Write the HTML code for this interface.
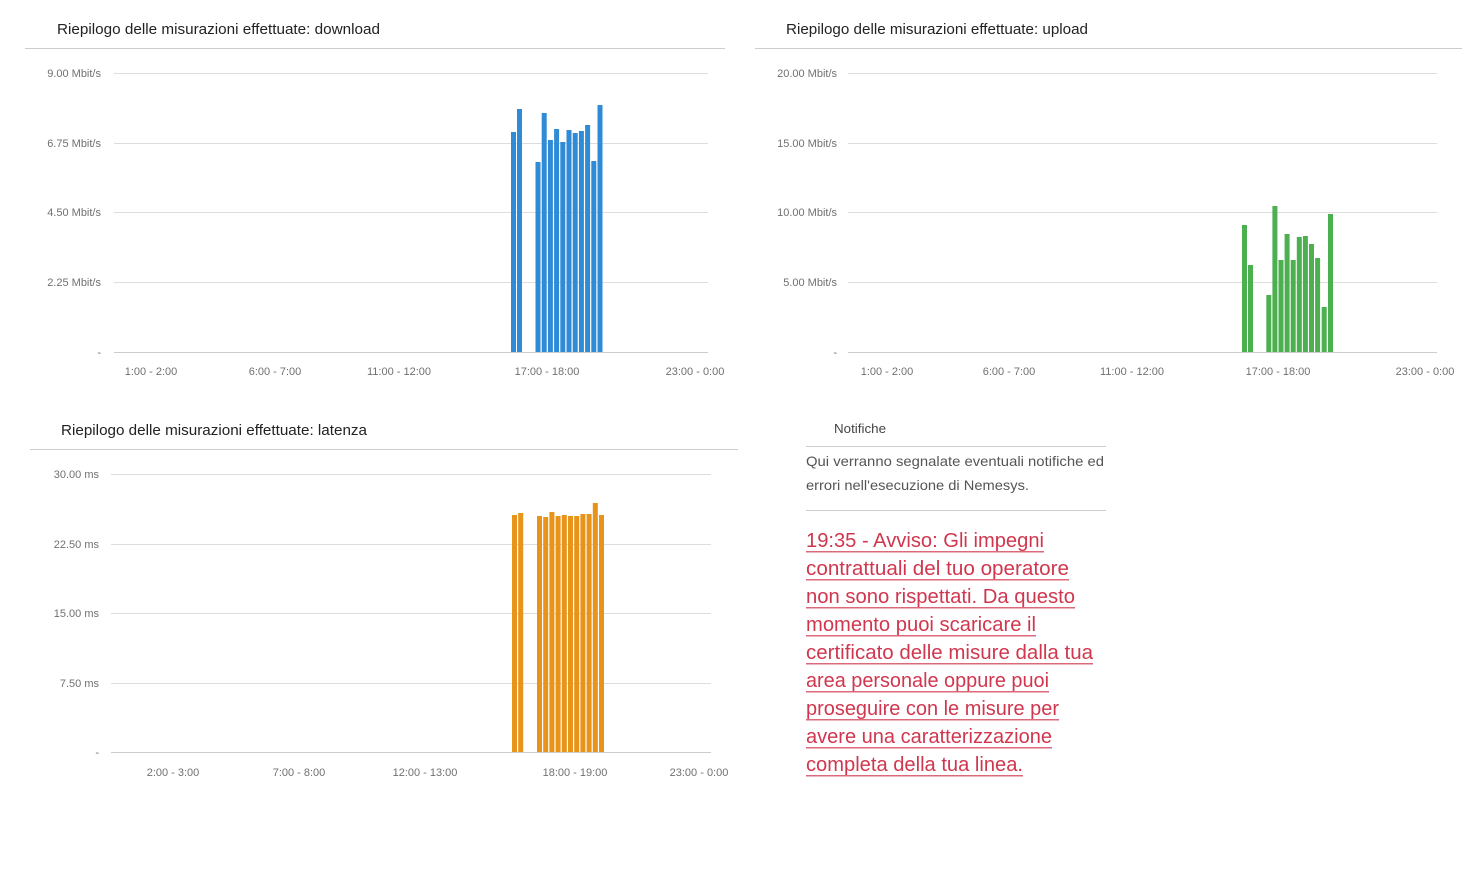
<!DOCTYPE html>
<html><head><meta charset="utf-8"><style>
html,body{margin:0;padding:0;background:#fff;}
svg{display:block;}
.t{font-family:"Liberation Sans",sans-serif;}
.ax{font-family:"Liberation Sans",sans-serif;font-size:11px;fill:#707070;}
.ti{font-family:"Liberation Sans",sans-serif;font-size:15px;fill:#222;}
.red{font-family:"Liberation Sans",sans-serif;font-size:20px;fill:#d0374f;}
.gr{font-family:"Liberation Sans",sans-serif;font-size:14px;fill:#555;}
</style></head><body>
<svg width="1478" height="878" xmlns="http://www.w3.org/2000/svg">
<text class="ti" x="57" y="34" textLength="323" lengthAdjust="spacingAndGlyphs">Riepilogo delle misurazioni effettuate: download</text>
<line x1="25" y1="48.5" x2="725" y2="48.5" stroke="#ccc"/>
<text class="ti" x="786" y="34" textLength="302" lengthAdjust="spacingAndGlyphs">Riepilogo delle misurazioni effettuate: upload</text>
<line x1="755" y1="48.5" x2="1462" y2="48.5" stroke="#ccc"/>
<text class="ti" x="61" y="435" textLength="306" lengthAdjust="spacingAndGlyphs">Riepilogo delle misurazioni effettuate: latenza</text>
<line x1="30" y1="449.5" x2="738" y2="449.5" stroke="#ccc"/>

<g stroke="#ddd">
<line x1="114" y1="73.5" x2="708" y2="73.5"/><line x1="114" y1="143.5" x2="708" y2="143.5"/>
<line x1="114" y1="212.5" x2="708" y2="212.5"/><line x1="114" y1="282.5" x2="708" y2="282.5"/>
<line x1="114" y1="352.5" x2="708" y2="352.5" stroke="#ccc"/>
</g>
<g class="ax" text-anchor="end">
<text x="101" y="77">9.00 Mbit/s</text><text x="101" y="147">6.75 Mbit/s</text>
<text x="101" y="216">4.50 Mbit/s</text><text x="101" y="286">2.25 Mbit/s</text><text x="101" y="356">-</text>
</g>
<g class="ax" text-anchor="middle">
<text x="151" y="375">1:00 - 2:00</text><text x="275" y="375">6:00 - 7:00</text>
<text x="399" y="375">11:00 - 12:00</text><text x="547" y="375">17:00 - 18:00</text>
<text x="695" y="375">23:00 - 0:00</text>
</g>
<rect x="726" y="360" width="29" height="25" fill="#fff"/>
<g fill="#2f8bd6">
<rect x="511" y="132" width="5" height="220"/><rect x="517" y="109" width="5" height="243"/>
<rect x="535.5" y="162" width="5" height="190"/><rect x="541.7" y="113" width="5" height="239"/>
<rect x="547.9" y="140" width="5" height="212"/><rect x="554.1" y="129" width="5" height="223"/>
<rect x="560.3" y="142" width="5" height="210"/><rect x="566.5" y="130" width="5" height="222"/>
<rect x="572.7" y="133" width="5" height="219"/><rect x="578.9" y="131" width="5" height="221"/>
<rect x="585.1" y="125" width="5" height="227"/><rect x="591.3" y="161" width="5" height="191"/>
<rect x="597.5" y="105" width="5" height="247"/>
</g>

<g stroke="#ddd">
<line x1="848" y1="73.5" x2="1437" y2="73.5"/><line x1="848" y1="143.5" x2="1437" y2="143.5"/>
<line x1="848" y1="212.5" x2="1437" y2="212.5"/><line x1="848" y1="282.5" x2="1437" y2="282.5"/>
<line x1="848" y1="352.5" x2="1437" y2="352.5" stroke="#ccc"/>
</g>
<g class="ax" text-anchor="end">
<text x="837" y="77">20.00 Mbit/s</text><text x="837" y="147">15.00 Mbit/s</text>
<text x="837" y="216">10.00 Mbit/s</text><text x="837" y="286">5.00 Mbit/s</text><text x="837" y="356">-</text>
</g>
<g class="ax" text-anchor="middle">
<text x="887" y="375">1:00 - 2:00</text><text x="1009" y="375">6:00 - 7:00</text>
<text x="1132" y="375">11:00 - 12:00</text><text x="1278" y="375">17:00 - 18:00</text>
<text x="1425" y="375">23:00 - 0:00</text>
</g>
<g fill="#4caf50">
<rect x="1242" y="225" width="5" height="127"/><rect x="1248" y="265" width="5" height="87"/>
<rect x="1266.3" y="295" width="5" height="57"/><rect x="1272.4" y="206" width="5" height="146"/>
<rect x="1278.5" y="260" width="5" height="92"/><rect x="1284.6" y="234" width="5" height="118"/>
<rect x="1290.7" y="260" width="5" height="92"/><rect x="1296.8" y="237" width="5" height="115"/>
<rect x="1302.9" y="236" width="5" height="116"/><rect x="1309" y="244" width="5" height="108"/>
<rect x="1315.1" y="258" width="5" height="94"/><rect x="1321.7" y="307" width="5" height="45"/>
<rect x="1328" y="214" width="5" height="138"/>
</g>

<g stroke="#ddd">
<line x1="111" y1="474.5" x2="711" y2="474.5"/><line x1="111" y1="544.5" x2="711" y2="544.5"/>
<line x1="111" y1="613.5" x2="711" y2="613.5"/><line x1="111" y1="683.5" x2="711" y2="683.5"/>
<line x1="111" y1="752.5" x2="711" y2="752.5" stroke="#ccc"/>
</g>
<g class="ax" text-anchor="end">
<text x="99" y="478">30.00 ms</text><text x="99" y="548">22.50 ms</text>
<text x="99" y="617">15.00 ms</text><text x="99" y="687">7.50 ms</text><text x="99" y="756">-</text>
</g>
<g class="ax" text-anchor="middle">
<text x="173" y="776">2:00 - 3:00</text><text x="299" y="776">7:00 - 8:00</text>
<text x="425" y="776">12:00 - 13:00</text><text x="575" y="776">18:00 - 19:00</text>
<text x="699" y="776">23:00 - 0:00</text>
</g>
<g fill="#e8931a">
<rect x="512" y="515" width="5" height="237"/><rect x="518.2" y="513" width="5" height="239"/>
<rect x="537" y="516" width="5" height="236"/><rect x="543.2" y="517" width="5" height="235"/>
<rect x="549.4" y="512" width="5" height="240"/><rect x="555.6" y="516" width="5" height="236"/>
<rect x="561.8" y="515" width="5" height="237"/><rect x="568" y="516" width="5" height="236"/>
<rect x="574.2" y="516" width="5" height="236"/><rect x="580.4" y="514" width="5" height="238"/>
<rect x="586.6" y="514" width="5" height="238"/><rect x="592.8" y="503" width="5" height="249"/>
<rect x="599" y="515" width="5" height="237"/>
</g>

<text class="t" x="834" y="433" font-size="13" fill="#444" textLength="52" lengthAdjust="spacingAndGlyphs">Notifiche</text>
<line x1="806" y1="446.5" x2="1106" y2="446.5" stroke="#ccc"/>
<text class="gr" x="806" y="466" textLength="298" lengthAdjust="spacingAndGlyphs">Qui verranno segnalate eventuali notifiche ed</text>
<text class="gr" x="806" y="490" textLength="223" lengthAdjust="spacingAndGlyphs">errori nell'esecuzione di Nemesys.</text>
<line x1="806" y1="510.5" x2="1106" y2="510.5" stroke="#ccc"/>
<g class="red">
<text x="806" y="547" textLength="238" lengthAdjust="spacingAndGlyphs">19:35 - Avviso: Gli impegni</text>
<text x="806" y="575" textLength="263" lengthAdjust="spacingAndGlyphs">contrattuali del tuo operatore</text>
<text x="806" y="603" textLength="269" lengthAdjust="spacingAndGlyphs">non sono rispettati. Da questo</text>
<text x="806" y="631" textLength="230" lengthAdjust="spacingAndGlyphs">momento puoi scaricare il</text>
<text x="806" y="659" textLength="287" lengthAdjust="spacingAndGlyphs">certificato delle misure dalla tua</text>
<text x="806" y="687" textLength="243" lengthAdjust="spacingAndGlyphs">area personale oppure puoi</text>
<text x="806" y="715" textLength="253" lengthAdjust="spacingAndGlyphs">proseguire con le misure per</text>
<text x="806" y="743" textLength="246" lengthAdjust="spacingAndGlyphs">avere una caratterizzazione</text>
<text x="806" y="771" textLength="217" lengthAdjust="spacingAndGlyphs">completa della tua linea.</text>
</g>
<g fill="#d0374f" opacity="0.75">
<rect x="806" y="551" width="238" height="1.5"/><rect x="806" y="579" width="263" height="1.5"/>
<rect x="806" y="607" width="269" height="1.5"/><rect x="806" y="635" width="230" height="1.5"/>
<rect x="806" y="663" width="287" height="1.5"/><rect x="806" y="691" width="243" height="1.5"/>
<rect x="806" y="719" width="253" height="1.5"/><rect x="806" y="747" width="246" height="1.5"/>
<rect x="806" y="775" width="217" height="1.5"/>
</g>
</svg>
</body></html>
